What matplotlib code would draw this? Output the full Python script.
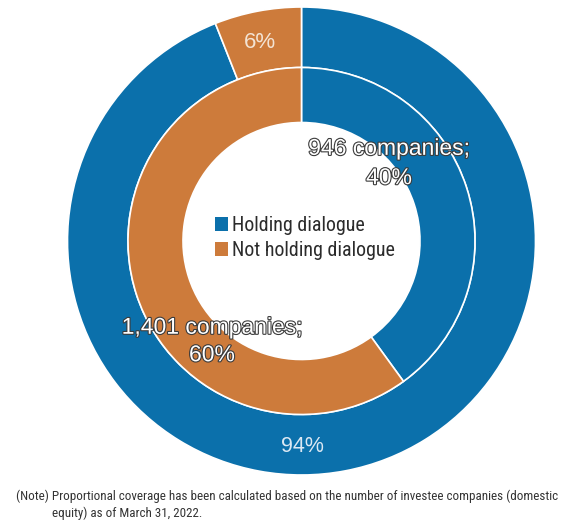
import matplotlib

matplotlib.use("Agg")
import matplotlib.pyplot as plt
import matplotlib.patheffects as pe
from matplotlib.patches import Patch

# dialogue coverage of investee companies (domestic equity)
categories = ["Holding dialogue", "Not holding dialogue"]
coverage_pct = [94, 6]          # outer ring: proportional coverage
company_share_pct = [40, 60]    # inner ring: share of companies
company_counts = ["946", "1,401"]

BLUE = "#0b70ab"
ORANGE = "#cd7b3b"
colors = [BLUE, ORANGE]

W, H = 573, 527
fig = plt.figure(figsize=(W / 100, H / 100), dpi=100)
ax = fig.add_axes([0, 0, 1, 1])

cx, cy = 301.5, H - 241
r_out, r_mid, r_in = 234, 173.5, 118.5
wp = dict(edgecolor="white", linewidth=1.2)

ax.pie(coverage_pct, colors=colors, startangle=90, counterclock=False,
       radius=r_out, center=(cx, cy), frame=True,
       wedgeprops=dict(width=r_out - r_mid, **wp))
ax.pie(company_share_pct, colors=colors, startangle=90, counterclock=False,
       radius=r_mid, center=(cx, cy), frame=True,
       wedgeprops=dict(width=r_mid - r_in, **wp))
ax.set_xlim(0, W)
ax.set_ylim(0, H)
ax.set_aspect("equal")
ax.axis("off")

condensed = ["Roboto Condensed", "Liberation Sans", "DejaVu Sans"]
sans = ["Liberation Sans", "DejaVu Sans"]

# outer ring percentages
ax.text(260, H - 43, f"{coverage_pct[1]}%", color="#f3e3d3", fontsize=16,
        family=sans, ha="center", va="center")
ax.text(302, H - 446, f"{coverage_pct[0]}%", color="#dbe8f3", fontsize=15.5,
        family=sans, ha="center", va="center")

# inner ring company counts, white with dark outline
outline = [pe.withStroke(linewidth=1.6, foreground="#3b3b3b")]
ax.text(389, H - 163, f"{company_counts[0]} companies;\n{company_share_pct[0]}%",
        color="white", fontsize=16.5, family=sans, ha="center", va="center",
        linespacing=1.35, path_effects=outline)
ax.text(212, H - 341, f"{company_counts[1]} companies;\n{company_share_pct[1]}%",
        color="white", fontsize=16.5, family=sans, ha="center", va="center",
        linespacing=1.25, path_effects=outline)

handles = [Patch(facecolor=c, edgecolor="none") for c in colors]
leg = ax.legend(handles, categories, loc="center left",
                bbox_to_anchor=(215 / W, 1 - 238 / H), frameon=False,
                prop=dict(family=condensed, size=14.4), handlelength=0.65,
                handleheight=0.7, handletextpad=0.22, labelspacing=0.32,
                borderpad=0, borderaxespad=0)
for t in leg.get_texts():
    t.set_color("#2b2b2b")

note_kw = dict(family=condensed, fontsize=9.4, color="#333333", ha="left", va="center")
fig.text(16 / W, 1 - 496 / H,
         "(Note) Proportional coverage has been calculated based on the number "
         "of investee companies (domestic", **note_kw)
fig.text(52 / W, 1 - 513 / H, "equity) as of March 31, 2022.", **note_kw)

fig.savefig("out.png", dpi=100)
